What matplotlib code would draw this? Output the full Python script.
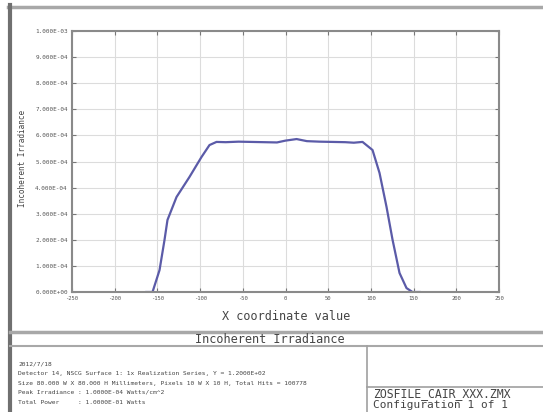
import numpy as np
import matplotlib
matplotlib.use("Agg")
import matplotlib.pyplot as plt
from matplotlib.lines import Line2D

# cross-section (x in plot units, irradiance)
x_pos = [-163, -155.7, -147.5, -141.7, -138.2, -127.6, -112.4, -98.4, -89.0, -80.8,
         -70, -55, -40, -25, -10, 0, 13, 25, 40, 55, 70, 80, 90.2,
         101.9, 110.1, 118.3, 125.3, 133.5, 141.7, 148.7, 157]
irradiance = [0.0, 0.0, 0.84e-4, 1.99e-4, 2.76e-4, 3.64e-4, 4.41e-4, 5.17e-4, 5.63e-4, 5.75e-4,
              5.74e-4, 5.76e-4, 5.75e-4, 5.74e-4, 5.73e-4, 5.80e-4, 5.86e-4, 5.78e-4, 5.76e-4,
              5.75e-4, 5.74e-4, 5.72e-4, 5.75e-4,
              5.44e-4, 4.56e-4, 3.26e-4, 2.01e-4, 0.73e-4, 0.15e-4, 0.0, 0.0]

x_ticks = [-250, -200, -150, -100, -50, 0, 50, 100, 150, 200, 250]
y_ticks = [i * 1.0e-4 for i in range(11)]

info_lines = [
    "2012/7/18",
    "Detector 14, NSCG Surface 1: 1x Realization Series, Y = 1.2000E+02",
    "Size 80.000 W X 80.000 H Millimeters, Pixels 10 W X 10 H, Total Hits = 100778",
    "Peak Irradiance : 1.0000E-04 Watts/cm^2",
    "Total Power     : 1.0000E-01 Watts",
]
file_name = "ZOSFILE_CAIR_XXX.ZMX"
config_text = "Configuration 1 of 1"

W, H = 543, 412
MONO = "DejaVu Sans Mono"

fig = plt.figure(figsize=(W / 100, H / 100), dpi=100)
fig.patch.set_facecolor("white")


def fx(px):
    return px / W


def fy(py):
    return 1 - py / H


def frame_line(x0, y0, x1, y1, color="#a0a0a0", lw=1.5):
    fig.add_artist(Line2D([fx(x0), fx(x1)], [fy(y0), fy(y1)], color=color, lw=lw,
                          transform=fig.transFigure))


# outer frame and boxes
frame_line(8, 7, 543, 7, color="#a8a8a8", lw=2.5)
frame_line(10, 5, 10, 412, color="#707070", lw=3)
frame_line(10, 332, 543, 332, color="#a8a8a8", lw=2.5)
frame_line(10, 346, 543, 346, color="#a8a8a8", lw=1.5)
frame_line(367, 346, 367, 412, color="#a0a0a0", lw=1.2)
frame_line(367, 387, 543, 387, color="#a0a0a0", lw=1.2)

# main plot
ax = fig.add_axes([fx(72), fy(292), fx(499) - fx(72), fy(31) - fy(292)])
ax.plot(x_pos, irradiance, color="#5b5ba8", lw=1.6)
ax.set_xlim(x_ticks[0], x_ticks[-1])
ax.set_ylim(y_ticks[0], y_ticks[-1])
ax.set_xticks(x_ticks)
ax.set_xticklabels([str(v) for v in x_ticks], fontsize=4, family=MONO, color="#555555")
ax.set_yticks(y_ticks)
ax.set_yticklabels(["%.3E" % v for v in y_ticks], fontsize=4.3, family=MONO, color="#555555")
ax.tick_params(direction="in", top=True, right=True, length=3, width=0.8,
               color="#777777", pad=3)
ax.grid(True, color="#dcdcdc", lw=0.8)
for s in ax.spines.values():
    s.set_color("#8a8a8a")
    s.set_linewidth(1.5)

fig.text(fx(286), fy(317), "X coordinate value", ha="center", va="center",
         fontsize=8.5, family=MONO, color="#444444")
fig.text(fx(23), fy(158), "Incoherent Irradiance", ha="center", va="center",
         rotation=90, fontsize=5.5, family=MONO, color="#444444")

# bottom panel
fig.text(fx(270), fy(339.5), "Incoherent Irradiance", ha="center", va="center",
         fontsize=8.5, family=MONO, color="#444444")
for i, line in enumerate(info_lines):
    fig.text(fx(18), fy(364 + i * 9.5), line, ha="left", va="center",
             fontsize=4.5, family=MONO, color="#444444")
fig.text(fx(373), fy(394), file_name, ha="left", va="center",
         fontsize=8.3, family=MONO, color="#444444")
fig.text(fx(373), fy(405), config_text, ha="left", va="center",
         fontsize=8.0, family=MONO, color="#444444")

fig.savefig("out.png", dpi=100)
